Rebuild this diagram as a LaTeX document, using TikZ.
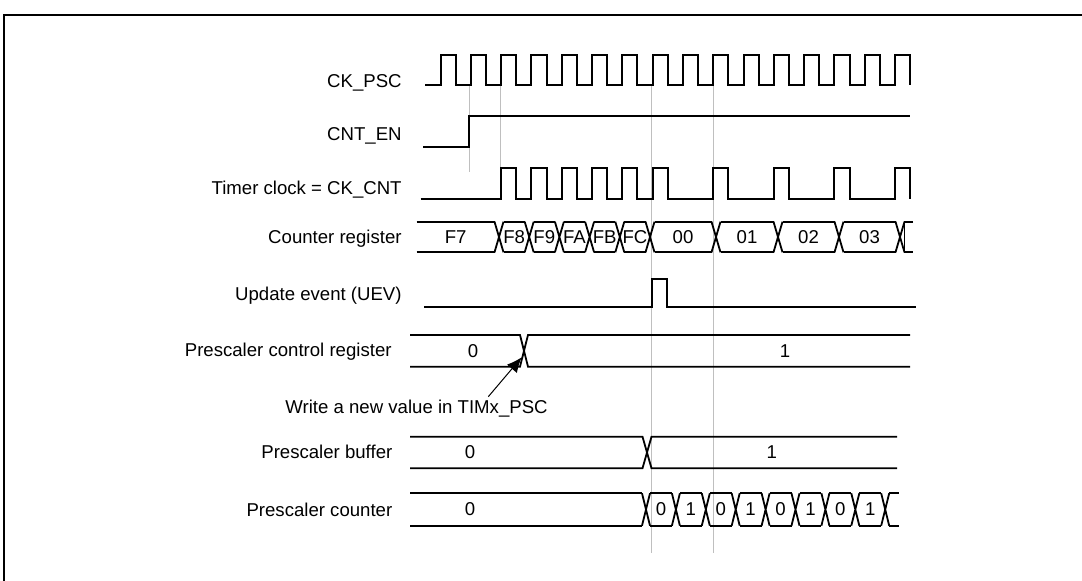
\documentclass[tikz,border=0pt]{standalone}
\usepackage{fontspec}
\setmainfont{Liberation Sans}
\usetikzlibrary{arrows.meta}

\begin{document}
\begin{tikzpicture}[x=0.5pt, y=-0.5pt,
  every node/.style={font=\fontsize{9.3}{11}\selectfont, inner sep=0pt},
  sig/.style={line width=1pt, line join=miter},
  bus/.style={line width=0.9pt},
  guide/.style={line width=0.5pt, black!25},
  lbl/.style={anchor=base east}]
\def\ckx{440.5}
\def\per{30.3}
\def\half{15.15}
\def\w{4.5}
\def\ctop{221.7}
\def\cbot{252.3}

\useasboundingbox (0,0) rectangle (1082,581);
\draw[line width=0.9pt] (4,581) -- (4,15) -- (1082,15);

\coordinate (g1) at (469.3,85);
\coordinate (g2) at (500.7,85);
\coordinate (g3) at (651.7,85);
\coordinate (g4) at (713.3,85);
\draw[guide] (g1) -- ++(0,86.7);
\draw[guide] (g2) -- ++(0,83);
\draw[guide] (g3) -- ++(0,468);
\draw[guide] (g4) -- ++(0,468);

\node[lbl] (ckpsc) at (402,87.7) {CK\_PSC};
\node[lbl] (cnten) at (402,141) {CNT\_EN};
\node[lbl] (ckcnt) at (402,194.3) {Timer clock = CK\_CNT};
\node[lbl] (cntreg) at (402,243.3) {Counter register};
\node[lbl] (uev) at (402,300.7) {Update event (UEV)};
\node[lbl] (pscreg) at (392,356.7) {Prescaler control register};
\node[lbl] (pscbuf) at (392.7,458.3) {Prescaler buffer};
\node[lbl] (psccnt) at (392.7,516.7) {Prescaler counter};
\node[anchor=base west] (wr) at (285,413.3) {Write a new value in TIMx\_PSC};

\draw[sig] (425,85)
  \foreach \k in {0,...,15} {
    -- ({\ckx+\k*\per},85) -- ++(0,-30) -- ++(\half,0) -- ++(0,30)
  };

\draw[sig] (423,146.7) -- (469.3,146.7) -- (469.3,116) -- (910,116);

\draw[sig] (420.7,199.3)
  \foreach \k in {2,3,4,5,6,7,9,11,13,15} {
    -- ({\ckx+\k*\per},199.3) -- ++(0,-31) -- ++(\half,0) -- ++(0,31)
  };

\foreach \a/\b/\t in {412.2/499/F7, 499/529.2/F8, 529.2/559.4/F9,
    559.4/589.6/FA, 589.6/619.8/FB, 619.8/650/FC, 650/716/00,
    716/778/01, 778/839/02, 839/900/03} {
  \draw[bus] (\a+\w,\ctop) -- (\b-\w,\ctop) (\a+\w,\cbot) -- (\b-\w,\cbot);
  \node (cr-\t) at ({(\a+\b)/2},237) {\t};
}
\foreach \c in {499,529.2,559.4,589.6,619.8,650,716,778,839,900}
  \draw[bus] (\c-\w,\ctop) -- (\c+\w,\cbot) (\c-\w,\cbot) -- (\c+\w,\ctop);
\draw[bus] (913,\ctop) -- (904.5,\ctop) -- (904.5,\cbot) -- (913,\cbot);

\draw[sig] (424,306.7) -- (651.7,306.7) -- (651.7,279.3) -- (666.7,279.3)
  -- (666.7,306.7) -- (916,306.7);

\draw[bus] (410,335) -- (520,335) -- (528,366.7) -- (910,366.7);
\draw[bus] (410,366.7) -- (520,366.7) -- (528,335) -- (910,335);
\node (reg0) at (473,351) {0};
\node (reg1) at (785,351) {1};
\coordinate (pscx) at (521.7,357.3);
\coordinate (wrtail) at (488.3,396.7);
\draw[line width=0.5pt, -{Latex[length=7.5pt, width=6.5pt]}] (wrtail) -- (pscx);

\draw[bus] (410,436.7) -- (642.5,436.7) -- (651.5,468.3) -- (897,468.3);
\draw[bus] (410,468.3) -- (642.5,468.3) -- (651.5,436.7) -- (897,436.7);
\node (buf0) at (470,452.5) {0};
\node (buf1) at (771.7,452.5) {1};

\draw[bus] (410,493.3) -- (642,493.3) (410,525.7) -- (642,525.7);
\node (pc0) at (470,509.5) {0};
\foreach \i in {0,...,8} {
  \pgfmathsetmacro{\c}{646+29.9*\i}
  \draw[bus] (\c-4,493.3) -- (\c+4,525.7) (\c-4,525.7) -- (\c+4,493.3);
}
\foreach \i in {0,...,7} {
  \pgfmathsetmacro{\a}{646+29.9*\i}
  \pgfmathtruncatemacro{\v}{mod(\i,2)}
  \draw[bus] (\a+4,493.3) -- (\a+25.9,493.3) (\a+4,525.7) -- (\a+25.9,525.7);
  \node (pc-\i) at (\a+14.95,509.5) {\v};
}
\draw[bus] (889.2,493.3) -- (899,493.3) (889.2,525.7) -- (899,525.7);
\end{tikzpicture}
\end{document}
